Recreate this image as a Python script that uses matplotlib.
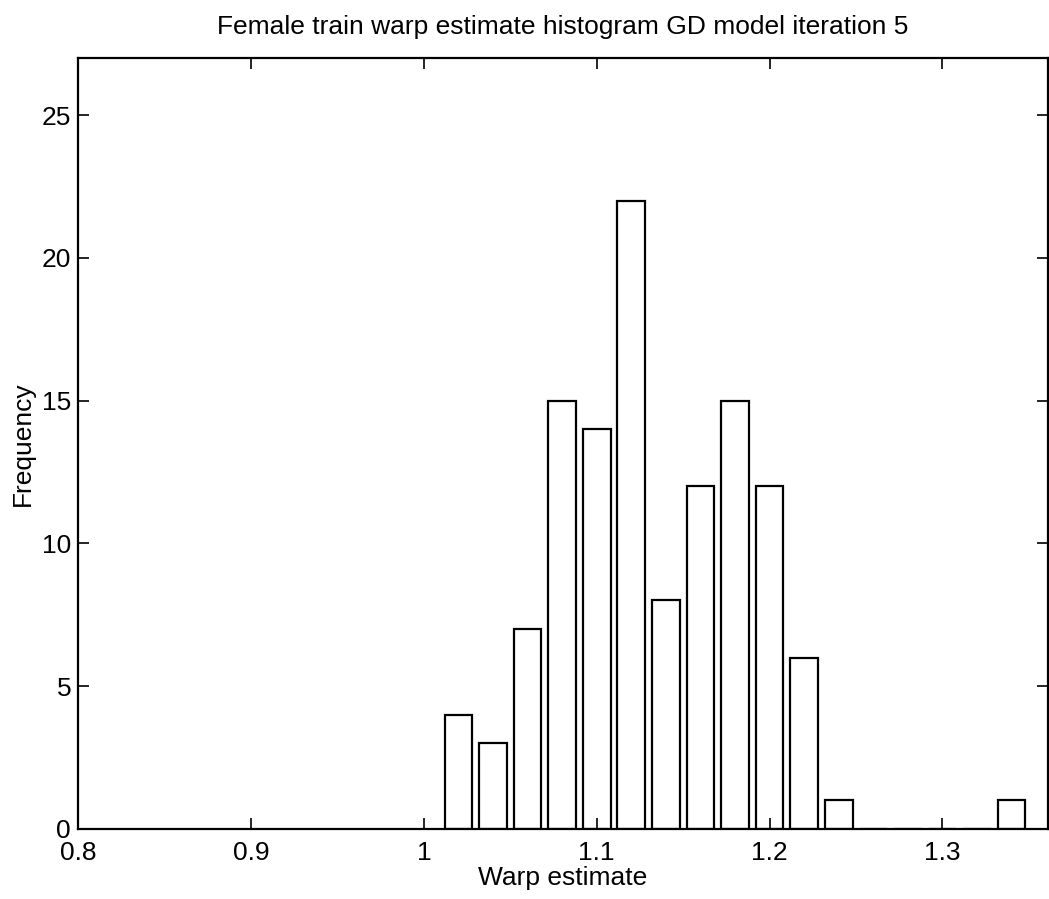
import matplotlib
matplotlib.use("Agg")
import matplotlib.pyplot as plt

bin_centers = [1.02, 1.04, 1.06, 1.08, 1.10, 1.12, 1.14, 1.16, 1.18, 1.20,
               1.22, 1.24, 1.26, 1.28, 1.30, 1.32, 1.34]
counts = [4, 3, 7, 15, 14, 22, 8, 12, 15, 12, 6, 1, 0, 0, 0, 0, 1]
x_ticks = [0.8, 0.9, 1.0, 1.1, 1.2, 1.3]
x_tick_labels = ["0.8", "0.9", "1", "1.1", "1.2", "1.3"]
y_ticks = [0, 5, 10, 15, 20, 25]

plt.rcParams['font.family'] = ['Liberation Sans', 'DejaVu Sans']

fig = plt.figure(figsize=(10.49, 8.99), dpi=100)
ax = fig.add_axes([0.0744, 0.078, 0.9246, 0.8575])

ax.bar(bin_centers, counts, width=0.016, facecolor='white', edgecolor='black', linewidth=1.6)

ax.set_xlim(0.8, 1.361)
ax.set_ylim(0, 27)
ax.set_xticks(x_ticks)
ax.set_xticklabels(x_tick_labels)
ax.set_yticks(y_ticks)
ax.tick_params(direction='in', length=8, width=1.2, top=True, right=True,
               labelsize=19, colors='black')
ax.tick_params(axis='y', pad=5)
ax.tick_params(axis='x', pad=9)
for s in ax.spines.values():
    s.set_linewidth(1.6)

ax.set_title("Female train warp estimate histogram GD model iteration 5", fontsize=19, pad=17)
ax.set_xlabel("Warp estimate", fontsize=19, labelpad=0.5)
ax.set_ylabel("Frequency", fontsize=19, labelpad=5)

fig.savefig("out.png", dpi=100)
